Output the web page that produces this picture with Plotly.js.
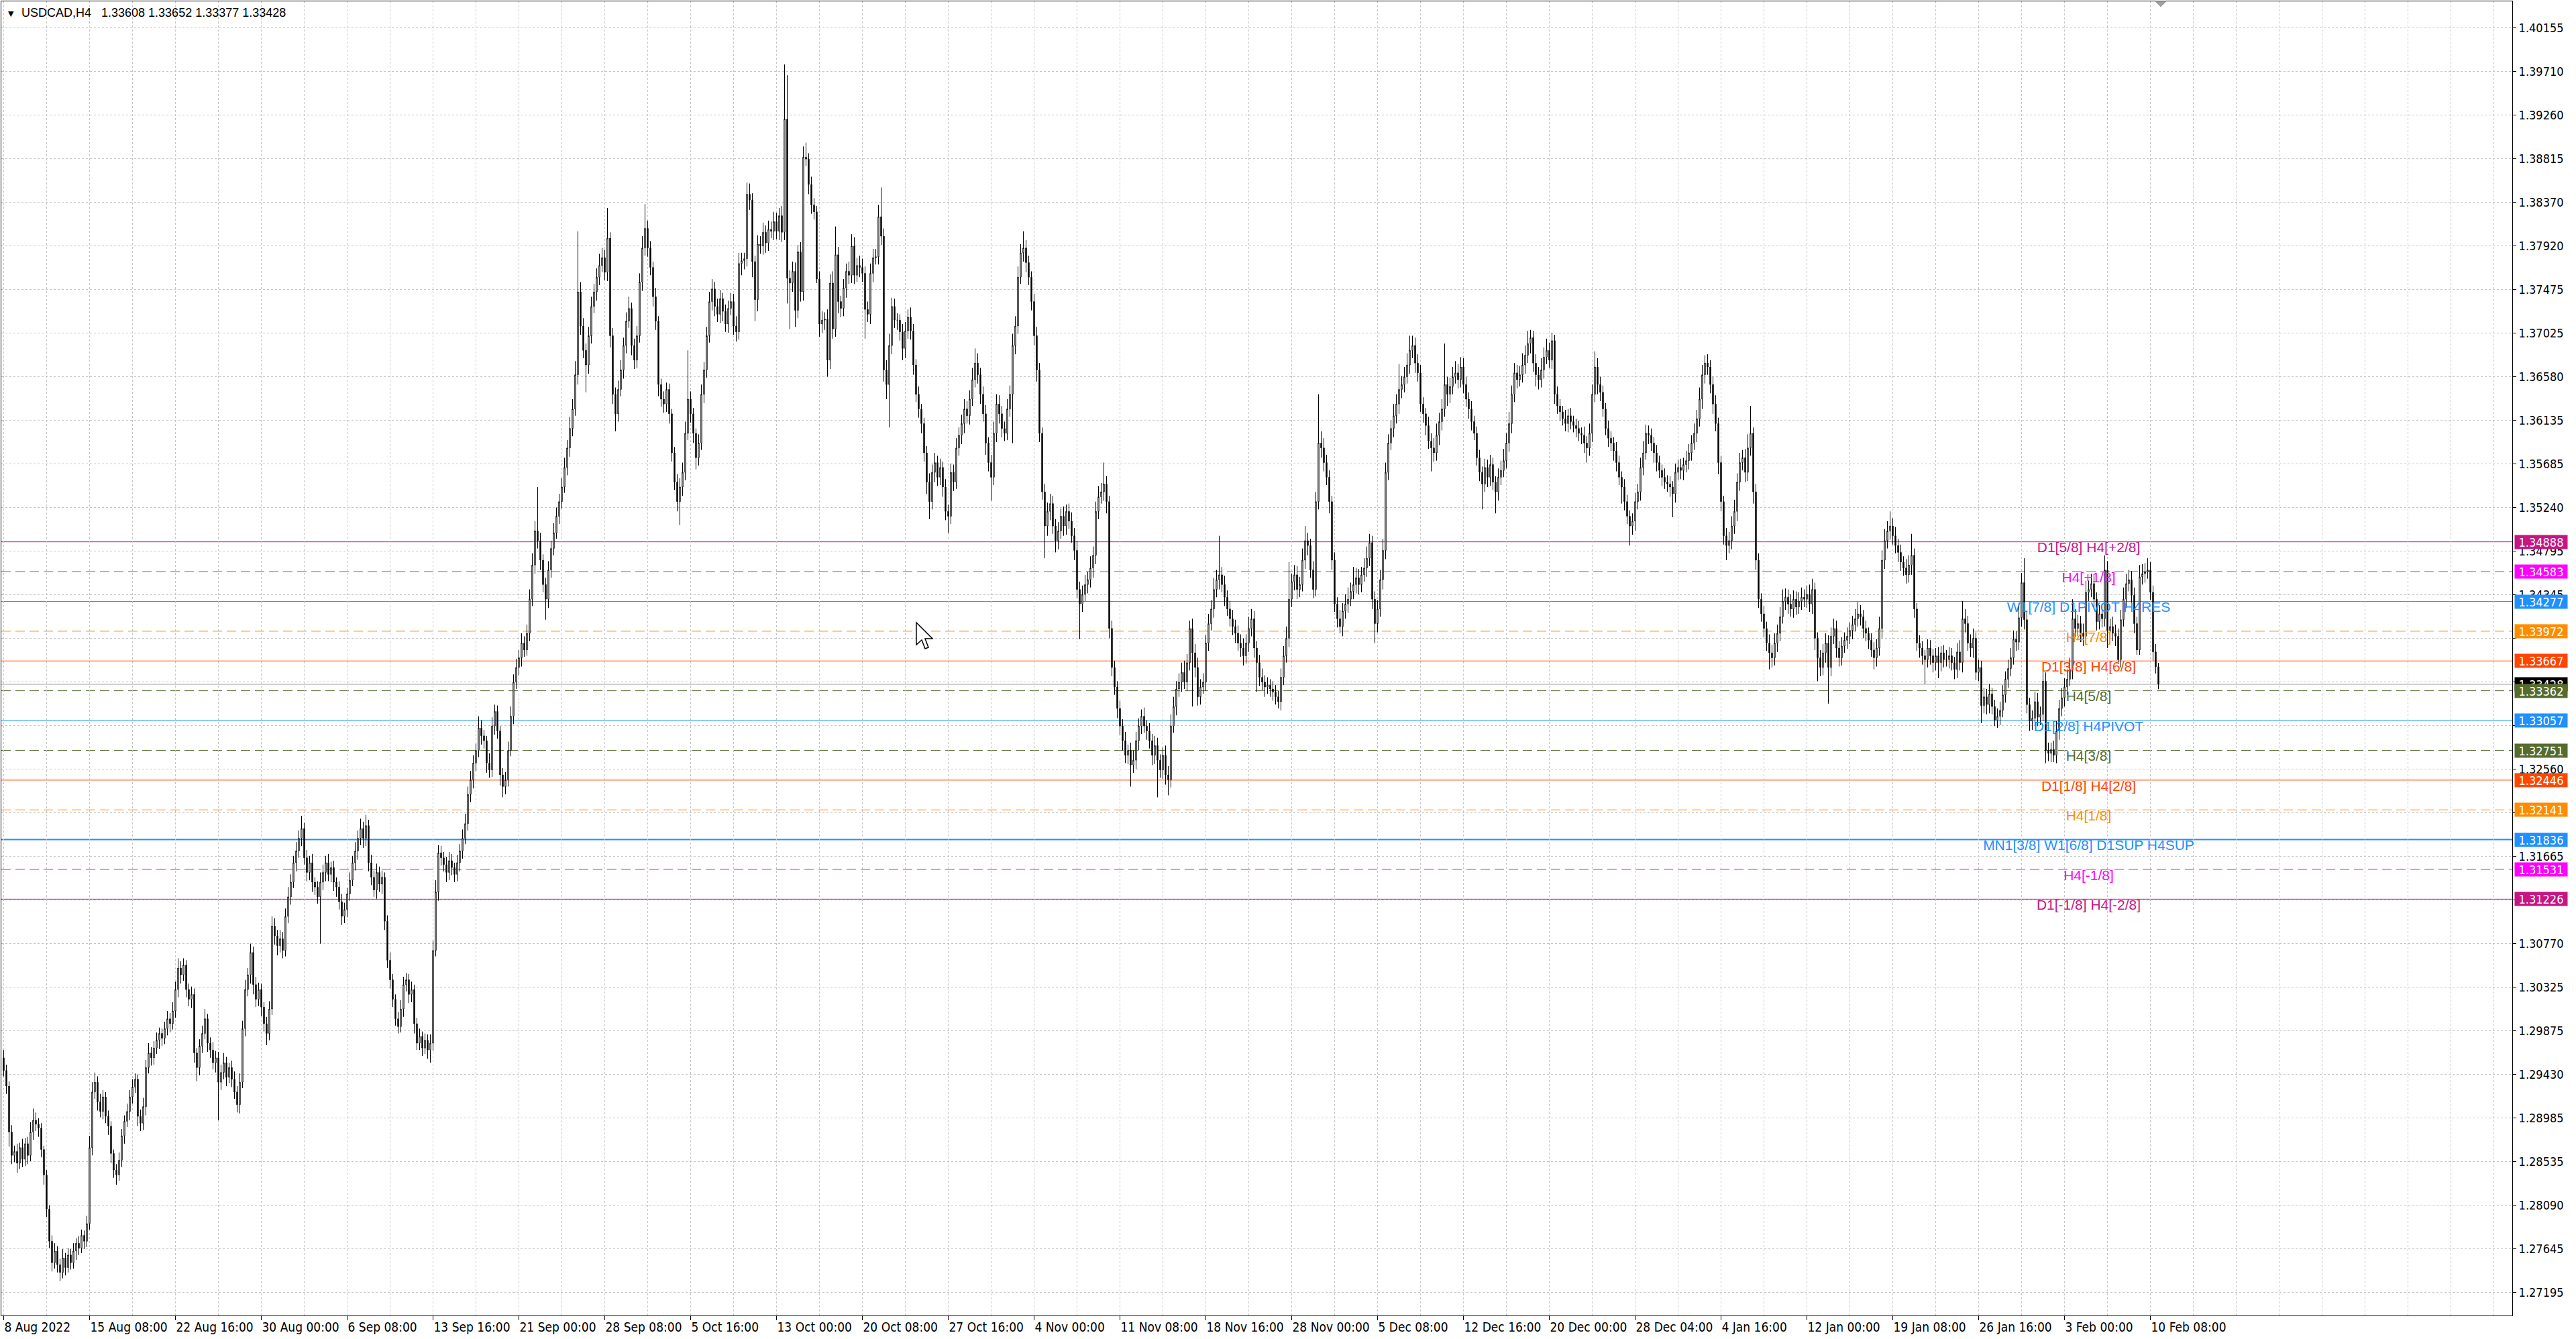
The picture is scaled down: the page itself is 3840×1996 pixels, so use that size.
<!DOCTYPE html>
<html><head><meta charset="utf-8">
<script src="https://cdn.plot.ly/plotly-3.0.1.min.js"></script>
<style>html,body{margin:0;padding:0;background:#fff;overflow:hidden}#chart{width:3840px;height:1996px}</style>
</head><body><div id="chart"></div>
<script>
// ---------------- data ----------------
const symbolTitle = 'USDCAD,H4\u00a0\u00a0 1.33608 1.33652 1.33377 1.33428';
const firstOpen = 1.2960;
const close = [
1.2947,1.2931,1.2884,1.2860,1.2864,1.2852,1.2868,1.2856,1.2872,1.2860,1.2884,1.2896,1.2892,1.2888,1.2866,1.2840,
1.2805,1.2772,1.2750,1.2762,1.2748,1.2740,1.2755,1.2745,1.2758,1.2750,1.2762,1.2770,1.2765,1.2778,1.2772,1.2790,
1.2868,1.2925,1.2935,1.2915,1.2905,1.2920,1.2900,1.2890,1.2862,1.2845,1.2840,1.2855,1.2880,1.2895,1.2905,1.2920,
1.2930,1.2938,1.2900,1.2893,1.2910,1.2950,1.2965,1.2960,1.2970,1.2978,1.2985,1.2980,1.2990,1.3000,1.2995,1.3008,
1.3030,1.3052,1.3045,1.3055,1.3030,1.3020,1.3025,1.2965,1.2950,1.2972,1.2985,1.3000,1.2975,1.2968,1.2955,1.2960,
1.2935,1.2945,1.2955,1.2940,1.2950,1.2938,1.2925,1.2912,1.2935,1.2990,1.3030,1.3045,1.3068,1.3035,1.3020,1.3030,
1.3012,1.2995,1.2985,1.3010,1.3095,1.3085,1.3075,1.3082,1.3070,1.3105,1.3125,1.3140,1.3160,1.3172,1.3185,1.3195,
1.3165,1.3150,1.3160,1.3140,1.3135,1.3125,1.3140,1.3150,1.3160,1.3148,1.3155,1.3140,1.3135,1.3120,1.3105,1.3112,
1.3128,1.3142,1.3160,1.3172,1.3185,1.3195,1.3185,1.3198,1.3160,1.3145,1.3132,1.3150,1.3138,1.3145,1.3100,1.3060,
1.3040,1.3020,1.3000,1.2992,1.3010,1.3035,1.3040,1.3025,1.3030,1.2995,1.2975,1.2982,1.2970,1.2978,1.2968,1.2975,
1.3070,1.3130,1.3170,1.3165,1.3158,1.3150,1.3162,1.3155,1.3148,1.3160,1.3172,1.3185,1.3200,1.3230,1.3245,1.3262,
1.3275,1.3298,1.3290,1.3285,1.3262,1.3255,1.3300,1.3315,1.3295,1.3250,1.3238,1.3245,1.3275,1.3310,1.3345,1.3360,
1.3370,1.3385,1.3378,1.3395,1.3430,1.3465,1.3500,1.3490,1.3470,1.3445,1.3430,1.3460,1.3482,1.3498,1.3515,1.3530,
1.3545,1.3565,1.3585,1.3605,1.3625,1.3660,1.3745,1.3710,1.3685,1.3670,1.3700,1.3730,1.3745,1.3760,1.3772,1.3780,
1.3765,1.3800,1.3700,1.3640,1.3620,1.3645,1.3665,1.3690,1.3715,1.3728,1.3690,1.3675,1.3700,1.3755,1.3790,1.3810,
1.3790,1.3770,1.3740,1.3715,1.3650,1.3635,1.3630,1.3645,1.3620,1.3580,1.3550,1.3530,1.3545,1.3560,1.3600,1.3635,
1.3620,1.3600,1.3575,1.3590,1.3640,1.3665,1.3700,1.3735,1.3748,1.3730,1.3722,1.3738,1.3725,1.3712,1.3728,1.3735,
1.3710,1.3704,1.3774,1.3777,1.3779,1.3845,1.3839,1.3776,1.3737,1.3794,1.3792,1.3806,1.3795,1.3809,1.3807,1.3817,
1.3807,1.3823,1.3806,1.3922,1.3759,1.3754,1.3766,1.3726,1.3786,1.3745,1.3883,1.3881,1.3855,1.3834,1.3827,1.3758,
1.3712,1.3716,1.3717,1.3675,1.3754,1.3707,1.3783,1.3735,1.3728,1.3749,1.3766,1.3762,1.3792,1.3762,1.3772,1.3770,
1.3764,1.3727,1.3722,1.3764,1.3780,1.3781,1.3822,1.3802,1.3665,1.3650,1.3690,1.3730,1.3716,1.3716,1.3704,1.3687,
1.3705,1.3719,1.3705,1.3670,1.3640,1.3625,1.3610,1.3580,1.3550,1.3530,1.3560,1.3570,1.3555,1.3565,1.3545,1.3520,
1.3515,1.3560,1.3550,1.3585,1.3598,1.3610,1.3625,1.3618,1.3635,1.3655,1.3672,1.3660,1.3640,1.3620,1.3590,1.3570,
1.3555,1.3600,1.3630,1.3620,1.3605,1.3600,1.3625,1.3640,1.3690,1.3710,1.3760,1.3785,1.3790,1.3775,1.3760,1.3735,
1.3700,1.3665,1.3600,1.3540,1.3505,1.3520,1.3528,1.3505,1.3490,1.3500,1.3515,1.3505,1.3520,1.3510,1.3495,1.3480,
1.3440,1.3425,1.3435,1.3445,1.3450,1.3462,1.3475,1.3520,1.3535,1.3540,1.3548,1.3530,1.3400,1.3360,1.3340,1.3318,
1.3300,1.3285,1.3270,1.3275,1.3260,1.3265,1.3285,1.3300,1.3310,1.3300,1.3295,1.3285,1.3270,1.3280,1.3265,1.3255,
1.3270,1.3250,1.3245,1.3300,1.3320,1.3338,1.3345,1.3355,1.3345,1.3365,1.3400,1.3375,1.3360,1.3330,1.3340,1.3345,
1.3385,1.3405,1.3420,1.3440,1.3450,1.3455,1.3445,1.3432,1.3420,1.3410,1.3402,1.3395,1.3385,1.3380,1.3372,1.3385,
1.3400,1.3410,1.3380,1.3365,1.3350,1.3345,1.3340,1.3342,1.3338,1.3335,1.3330,1.3325,1.3350,1.3372,1.3390,1.3430,
1.3448,1.3455,1.3440,1.3445,1.3470,1.3490,1.3485,1.3460,1.3440,1.3530,1.3590,1.3585,1.3570,1.3555,1.3530,1.3470,
1.3425,1.3410,1.3402,1.3418,1.3425,1.3430,1.3438,1.3445,1.3452,1.3445,1.3455,1.3462,1.3472,1.3488,1.3430,1.3405,
1.3420,1.3450,1.3480,1.3560,1.3590,1.3605,1.3618,1.3630,1.3645,1.3650,1.3658,1.3670,1.3685,1.3690,1.3672,1.3662,
1.3630,1.3620,1.3608,1.3592,1.3585,1.3580,1.3598,1.3612,1.3625,1.3650,1.3640,1.3648,1.3658,1.3662,1.3655,1.3668,
1.3650,1.3635,1.3625,1.3612,1.3600,1.3575,1.3560,1.3548,1.3565,1.3555,1.3568,1.3550,1.3540,1.3555,1.3562,1.3572,
1.3590,1.3610,1.3640,1.3662,1.3655,1.3660,1.3670,1.3680,1.3692,1.3698,1.3672,1.3660,1.3655,1.3665,1.3678,1.3685,
1.3675,1.3695,1.3640,1.3628,1.3622,1.3615,1.3610,1.3618,1.3612,1.3608,1.3605,1.3600,1.3598,1.3590,1.3585,1.3600,
1.3640,1.3668,1.3650,1.3642,1.3625,1.3605,1.3595,1.3590,1.3582,1.3570,1.3555,1.3545,1.3530,1.3515,1.3505,1.3510,
1.3530,1.3540,1.3565,1.3580,1.3600,1.3598,1.3590,1.3580,1.3570,1.3562,1.3555,1.3550,1.3548,1.3545,1.3538,1.3560,
1.3565,1.3562,1.3568,1.3572,1.3580,1.3590,1.3600,1.3615,1.3635,1.3660,1.3672,1.3668,1.3650,1.3630,1.3610,1.3570,
1.3530,1.3495,1.3485,1.3490,1.3505,1.3520,1.3550,1.3570,1.3575,1.3560,1.3585,1.3600,1.3540,1.3470,1.3430,1.3415,
1.3400,1.3385,1.3375,1.3370,1.3385,1.3395,1.3412,1.3428,1.3432,1.3425,1.3420,1.3430,1.3422,1.3428,1.3432,1.3430,
1.3435,1.3425,1.3440,1.3390,1.3370,1.3360,1.3375,1.3385,1.3360,1.3392,1.3400,1.3380,1.3370,1.3382,1.3388,1.3392,
1.3398,1.3404,1.3410,1.3415,1.3412,1.3400,1.3395,1.3388,1.3378,1.3370,1.3380,1.3400,1.3470,1.3490,1.3500,1.3505,
1.3495,1.3485,1.3478,1.3468,1.3462,1.3455,1.3465,1.3475,1.3420,1.3385,1.3380,1.3372,1.3368,1.3380,1.3372,1.3365,
1.3372,1.3365,1.3375,1.3368,1.3368,1.3372,1.3365,1.3358,1.3376,1.3365,1.3410,1.3405,1.3385,1.3380,1.3390,1.3355,
1.3360,1.3321,1.3330,1.3322,1.3333,1.3320,1.3306,1.3310,1.3316,1.3332,1.3348,1.3359,1.3370,1.3389,1.3386,1.3411,
1.3447,1.3409,1.3322,1.3305,1.3308,1.3325,1.3309,1.3312,1.3346,1.3275,1.3272,1.3276,1.3270,1.3295,1.3318,1.3329,
1.3340,1.3348,1.3358,1.3410,1.3400,1.3405,1.3395,1.3392,1.3437,1.3440,1.3446,1.3430,1.3407,1.3415,1.3410,1.3460,
1.3398,1.3402,1.3395,1.3392,1.3368,1.3409,1.3430,1.3446,1.3450,1.3434,1.3405,1.3378,1.3453,1.3456,1.3458,1.3460,
1.3437,1.3376,1.33608,1.33428
];
// wick lengths above / below each candle body, in pips (0.0001)
const upperWickPips = [
8,6,5,7,6,8,5,9,6,7,10,12,8,6,5,4,
5,4,6,8,5,6,9,5,7,6,8,5,7,6,5,8,
12,10,10,6,8,7,5,6,5,4,6,8,7,6,8,7,
8,6,5,7,9,8,10,6,7,8,6,5,7,8,6,9,
8,10,7,7,5,6,8,6,5,7,8,10,5,6,8,7,
6,8,10,6,5,7,8,6,9,8,10,7,9,6,8,7,
6,5,7,8,10,8,6,9,7,8,10,8,7,9,8,13,
6,8,7,9,5,6,10,8,7,9,6,7,5,6,8,7,
6,8,7,9,8,10,7,11,6,8,7,9,6,7,5,6,
8,6,5,7,9,8,7,6,8,5,6,8,5,7,6,9,
10,12,8,7,6,8,9,7,5,8,7,9,10,8,9,8,
7,12,8,6,5,10,9,7,6,5,7,8,9,10,8,9,
8,10,7,9,10,12,10,45,8,6,7,9,8,10,9,8,
9,10,8,12,10,14,62,10,8,7,9,10,8,9,12,10,
8,31,6,8,7,9,10,8,9,12,6,7,10,9,12,25,
8,7,6,9,5,6,8,7,6,5,6,8,9,10,12,50,
8,6,5,9,10,8,9,10,10,7,8,9,6,7,8,9,
8,10,11,8,6,12,11,7,6,9,8,10,7,9,8,10,
9,8,10,56,45,8,10,9,7,10,11,15,6,8,7,6,
8,9,7,10,9,12,29,8,6,9,8,10,12,9,8,10,
9,7,8,10,9,8,12,30,8,10,12,9,8,7,6,8,
9,8,10,7,6,8,5,6,7,9,8,10,7,9,6,8,
7,9,8,10,8,9,10,8,9,12,15,10,7,8,9,6,
8,12,10,9,8,7,10,9,12,10,11,9,17,8,7,6,
8,9,7,6,8,9,10,8,7,9,8,10,7,8,9,8,
10,8,9,10,8,12,9,10,11,9,22,8,6,8,7,6,
8,7,9,6,8,10,9,8,7,9,6,8,7,10,8,6,
8,10,9,12,10,8,9,10,12,9,8,10,9,10,8,9,
8,10,9,12,10,40,8,9,7,8,9,7,8,9,10,9,
12,10,8,7,8,9,7,8,6,8,7,6,9,10,12,38,
8,10,9,8,12,15,8,7,9,10,50,12,10,8,7,6,
8,7,9,8,10,12,9,18,10,9,8,10,12,9,7,8,
9,10,12,10,9,8,12,10,26,9,10,12,15,10,8,9,
8,7,6,9,8,10,12,9,10,42,8,9,10,12,9,10,
9,8,7,8,6,7,8,6,9,8,10,7,6,9,10,12,
10,12,9,10,8,9,12,10,13,8,7,9,8,12,10,12,
8,8,6,8,7,6,9,7,8,6,7,8,6,9,7,10,
10,16,9,8,7,6,8,7,6,9,7,6,8,7,6,8,
9,8,10,12,9,8,7,6,8,7,6,9,7,8,6,9,
8,9,7,10,9,8,10,9,12,10,8,9,7,8,9,6,
7,6,8,9,10,12,9,10,8,9,14,28,6,8,7,6,
8,7,9,8,10,9,10,12,9,8,10,9,8,9,10,8,
9,10,11,7,6,8,9,10,8,9,10,8,7,9,8,9,
8,9,10,12,9,7,8,6,7,8,9,12,10,12,10,15,
8,9,7,8,6,9,10,22,7,6,8,7,6,9,8,7,
8,9,7,8,10,9,8,6,9,12,18,10,8,9,10,6,
8,7,9,8,10,6,7,8,9,10,8,9,10,9,8,12,
10,25,9,7,8,10,9,8,12,9,8,7,9,10,9,10,
9,10,12,20,10,9,8,10,12,9,10,8,7,9,8,15,
9,8,10,9,8,10,12,10,10,9,8,7,12,10,9,12,
8,7,8,4
];
const lowerWickPips = [
6,8,15,9,7,10,6,8,7,9,6,8,7,9,8,10,
8,7,9,6,8,9,6,8,5,7,6,9,7,5,8,6,
6,8,7,9,6,8,7,9,10,8,10,6,7,8,6,9,
7,6,10,8,7,9,6,8,7,6,9,8,6,7,9,6,
7,8,9,6,8,7,9,10,14,8,7,6,9,8,7,10,
39,8,7,9,6,8,7,8,9,6,8,7,9,10,8,7,
9,8,12,7,6,9,10,7,8,6,7,8,6,9,7,8,
7,9,8,10,8,7,48,8,9,7,8,9,10,8,9,7,
8,7,6,8,9,7,10,8,9,8,7,9,8,10,9,8,
9,8,7,7,6,8,7,9,8,10,7,7,8,6,9,13,
8,6,9,8,7,10,8,8,8,7,9,8,6,7,8,9,
8,7,9,8,10,8,7,9,8,11,11,8,7,6,8,7,
8,9,7,6,8,7,9,8,10,8,21,9,8,7,6,8,
7,6,8,9,8,7,10,9,8,28,9,8,7,9,8,7,
8,9,12,10,18,8,7,9,8,7,10,9,8,7,9,8,
9,8,10,9,12,8,9,8,10,9,8,10,24,9,8,7,
9,10,12,8,7,9,8,7,9,10,8,9,10,8,9,7,
9,10,8,12,9,8,10,16,22,12,8,9,10,8,7,9,
8,9,10,8,26,47,9,17,8,10,9,7,10,9,8,4,
13,9,10,17,9,10,8,12,9,8,10,9,8,9,7,10,
9,30,8,10,9,7,8,9,12,15,44,9,8,10,9,12,
10,8,9,10,8,9,10,9,12,18,8,10,9,8,10,9,
17,8,9,7,8,9,10,8,9,7,8,9,10,8,12,9,
24,8,9,10,9,8,7,8,50,9,8,7,9,10,8,9,
10,12,9,8,33,10,9,8,12,9,8,10,9,8,7,10,
9,36,8,7,9,8,10,9,8,7,9,12,10,9,8,10,
9,10,8,9,22,8,9,10,8,7,9,8,10,9,38,8,
9,10,16,8,7,9,8,10,7,9,8,55,10,9,8,7,
9,8,7,9,8,10,8,9,7,8,9,10,8,9,10,8,
9,8,10,30,9,8,10,7,8,9,8,7,9,8,7,9,
8,9,10,8,7,9,10,8,9,7,8,10,9,8,12,10,
8,9,7,10,8,9,7,8,9,10,8,7,9,8,10,20,
9,8,10,9,8,7,9,8,10,9,8,7,9,8,10,9,
8,9,10,8,24,9,8,10,9,8,12,9,8,7,9,8,
9,8,10,9,7,8,9,26,8,10,9,8,22,9,8,7,
8,9,10,8,9,7,8,9,8,10,9,12,10,8,9,7,
8,9,10,8,9,7,8,9,8,7,9,8,9,10,15,8,
9,8,10,9,8,7,9,8,10,9,8,17,9,8,20,9,
10,8,9,8,7,9,8,10,9,8,9,7,8,10,24,9,
8,9,10,8,9,8,7,9,8,10,9,8,9,10,8,12,
10,9,15,8,9,8,10,9,8,10,9,8,12,10,9,8,
9,8,17,10,8,9,8,7,9,10,8,9,8,7,9,8,
9,8,10,12,24,9,8,10,37,9,8,10,9,8,7,9,
8,9,7,8,9,10,8,9,7,12,9,8,10,9,8,9,
9,8,10,9,8,9,8,10,9,8,10,9,25,8,9,10,
8,16,9,8,7,9,8,10,9,8,10,9,8,9,10,8,
9,18,8,10,9,8,6,8,9,7,8,9,8,7,9,8,
9,10,9,10,9,8,9,8,7,13,8,9,7,8,9,8,
9,8,7,10,9,8,9,10,8,9,8,10,9,8,9,8,
18,9,8,10,3,8,7,9,8,9,10,5,5,8,9,7,
8,9,7,5
];
const xTickBars = [0,32,64,96,128,160,192,224,256,288,320,352,384,416,448,480,512,544,576,608,640,672,704,736,768,800];
const xTickLabels = ['8 Aug 2022','15 Aug 08:00','22 Aug 16:00','30 Aug 00:00','6 Sep 08:00','13 Sep 16:00','21 Sep 00:00','28 Sep 08:00','5 Oct 16:00','13 Oct 00:00','20 Oct 08:00','27 Oct 16:00','4 Nov 00:00','11 Nov 08:00','18 Nov 16:00','28 Nov 00:00','5 Dec 08:00','12 Dec 16:00','20 Dec 00:00','28 Dec 04:00','4 Jan 16:00','12 Jan 00:00','19 Jan 08:00','26 Jan 16:00','3 Feb 00:00','10 Feb 08:00'];
const yTickValues = [1.40155,1.39710,1.39260,1.38815,1.38370,1.37920,1.37475,1.37025,1.36580,1.36135,1.35685,1.35240,1.34795,1.34345,1.33900,1.33450,1.33005,1.32560,1.32110,1.31665,1.31220,1.30770,1.30325,1.29875,1.29430,1.28985,1.28535,1.28090,1.27645,1.27195];
// price-scale labels that sit (almost) completely under a level price box (grid line kept, text not printed)
const yTicksCovered = [1.33900,1.33450,1.33005,1.32110,1.31220];
const levelValues = [1.34888,1.34583,1.34277,1.33972,1.33667,1.33362,1.33057,1.32751,1.32446,1.32141,1.31836,1.31531,1.31226];
const levelLabels = ['D1[5/8] H4[+2/8]','H4[+1/8]','W1[7/8] D1PIVOT H4RES','H4[7/8]','D1[3/8] H4[6/8]','H4[5/8]','D1[2/8] H4PIVOT','H4[3/8]','D1[1/8] H4[2/8]','H4[1/8]','MN1[3/8] W1[6/8] D1SUP H4SUP','H4[-1/8]','D1[-1/8] H4[-2/8]'];
const currentPrice = 1.33428;

// ---------------- styles ----------------
const levelColors = ['#C71585','#FF00FF','#1E90FF','#FF8C00','#FF4500','#556B2F','#1E90FF','#556B2F','#FF4500','#FF8C00','#1E90FF','#FF00FF','#C71585'];
const levelDashed = [false,true,false,true,false,true,false,true,false,true,false,true,false];
const levelWidths = [1,1,1,1,1,1,1,1,1,1,2,1,1];
const levelLabelBar = 777;
const gridColor = '#c4c4c4';
const axisFont = 'DejaVu Sans Condensed, Liberation Sans, Arial, sans-serif';
const dateFont = 'Liberation Sans Narrow, DejaVu Sans Condensed, Arial Narrow, sans-serif';
const M = { l: 2, r: 95, t: 2, b: 35 };
const W = 3840, H = 1996;

// ---------------- build ----------------
const n = Math.min(close.length, upperWickPips.length, lowerWickPips.length);
const idx = [], open = [], high = [], low = [], cls = [];
for (let i = 0; i < n; i++) {
  const o = i === 0 ? firstOpen : close[i - 1];
  const c = close[i];
  idx.push(i); open.push(o); cls.push(c);
  high.push(+(Math.max(o, c) + upperWickPips[i] * 0.0001).toFixed(5));
  low.push(+(Math.min(o, c) - lowerWickPips[i] * 0.0001).toFixed(5));
}

const labelTrace = {
  type: 'scatter', mode: 'text',
  x: levelValues.map(() => levelLabelBar), y: levelValues,
  text: levelLabels, textposition: 'bottom center',
  textfont: { family: 'Liberation Sans, Arial, sans-serif', size: 21, color: levelColors },
  hoverinfo: 'skip', showlegend: false, cliponaxis: false
};
const candleTrace = {
  type: 'candlestick', x: idx, open: open, high: high, low: low, close: cls,
  increasing: { line: { color: '#000000', width: 1 }, fillcolor: '#ffffff' },
  decreasing: { line: { color: '#000000', width: 1 }, fillcolor: '#000000' },
  whiskerwidth: 0, hoverinfo: 'skip', showlegend: false
};

// pixel -> paper helpers (for the two decorations of the terminal window)
const pw = W - M.l - M.r, ph = H - M.t - M.b;
const px = v => ((v - M.l) / pw).toFixed(5);
const py = v => (1 - (v - M.t) / ph).toFixed(5);
function pathFromPixels(pts) {
  return 'M' + pts.map(p => px(p[0]) + ',' + py(p[1])).join(' L') + ' Z';
}

const shapes = [];
shapes.push({ type: 'line', xref: 'paper', x0: 0, x1: 1, yref: 'y', y0: currentPrice, y1: currentPrice,
  line: { color: '#a8a8a8', width: 1 }, layer: 'below' });
levelValues.forEach((v, k) => {
  shapes.push({ type: 'line', xref: 'paper', x0: 0, x1: 1, yref: 'y', y0: v, y1: v,
    line: { color: levelColors[k], width: levelWidths[k], dash: levelDashed[k] ? '14px,7px' : 'solid' }, layer: 'below' });
});
// chart-shift marker at the top border
shapes.push({ type: 'path', xref: 'paper', yref: 'paper', layer: 'above',
  path: pathFromPixels([[3213, 2], [3229, 2], [3221, 10]]),
  fillcolor: '#a0a0a0', line: { color: '#a0a0a0', width: 1 } });
// mouse pointer visible in the screenshot
shapes.push({ type: 'path', xref: 'paper', yref: 'paper', layer: 'above',
  path: pathFromPixels([[1366, 928], [1366, 961], [1374, 954], [1379, 967], [1384, 965], [1379, 952], [1390, 952]]),
  fillcolor: '#ffffff', line: { color: '#000000', width: 1.5 } });

const annotations = [];
annotations.push({ xref: 'paper', yref: 'paper', x: 0, y: 1, xanchor: 'left', yanchor: 'top', xshift: 8, yshift: -10,
  text: '\u25BC', showarrow: false, font: { family: 'DejaVu Sans, sans-serif', size: 11, color: '#000' } });
annotations.push({ xref: 'paper', yref: 'paper', x: 0, y: 1, xanchor: 'left', yanchor: 'top', xshift: 28, yshift: -5,
  text: symbolTitle, showarrow: false, font: { family: 'Liberation Sans, Arial, sans-serif', size: 18, color: '#000' } });
function priceBox(v, color) {
  return { xref: 'paper', x: 1, xanchor: 'left', xshift: 3, yref: 'y', y: v, yanchor: 'middle',
    text: v.toFixed(5), showarrow: false, bgcolor: color, borderpad: 0, width: 78, height: 20, align: 'center',
    font: { family: axisFont, size: 18, color: '#ffffff' } };
}
annotations.push(priceBox(currentPrice, '#000000'));
levelValues.forEach((v, k) => annotations.push(priceBox(v, levelColors[k])));

const layout = {
  width: W, height: H,
  margin: { l: M.l, r: M.r, t: M.t, b: M.b, pad: 0 },
  paper_bgcolor: '#ffffff', plot_bgcolor: '#ffffff',
  showlegend: false, boxgap: 0.5,
  xaxis: {
    type: 'linear', range: [-0.875, 934.875], fixedrange: true,
    tickmode: 'array', tickvals: xTickBars, ticktext: xTickLabels,
    ticks: 'outside', ticklen: 6, tickcolor: '#000', tickwidth: 1,
    ticklabelposition: 'outside right',
    tickfont: { family: dateFont, size: 19, color: '#000' },
    showgrid: true, gridcolor: gridColor, griddash: '3px,3px', gridwidth: 1,
    minor: { tickmode: 'linear', tick0: 0, dtick: 16, showgrid: true, gridcolor: gridColor, griddash: '3px,3px', ticks: '' },
    showline: true, linecolor: '#000', linewidth: 1, mirror: true, zeroline: false,
    rangeslider: { visible: false }
  },
  yaxis: {
    side: 'right', range: [1.26959, 1.40427], fixedrange: true,
    tickmode: 'array', tickvals: yTickValues,
    ticktext: yTickValues.map(v => yTicksCovered.includes(v) ? '' : v.toFixed(5)),
    ticks: 'outside', ticklen: 5, tickcolor: '#000',
    tickfont: { family: axisFont, size: 18, color: '#000' },
    showgrid: true, gridcolor: gridColor, griddash: '3px,3px', gridwidth: 1,
    showline: true, linecolor: '#000', linewidth: 1, mirror: true, zeroline: false
  },
  shapes: shapes,
  annotations: annotations
};

Plotly.newPlot('chart', [labelTrace, candleTrace], layout, { staticPlot: true, displayModeBar: false });
</script>
</body></html>
